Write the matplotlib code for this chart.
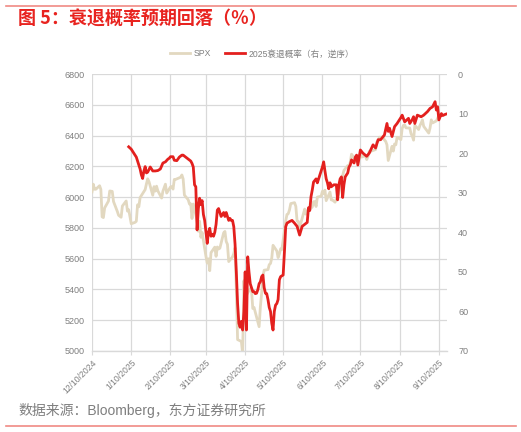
import matplotlib
matplotlib.use("Agg")
import matplotlib.pyplot as plt
import pandas as pd
from matplotlib.lines import Line2D

plt.rcParams['font.family'] = ['Liberation Sans', 'Noto Sans CJK SC', 'DejaVu Sans']

# SPX closes (left axis)
spx_dates = [
    "2024-12-10", "2024-12-11", "2024-12-12", "2024-12-13", "2024-12-16", "2024-12-17", "2024-12-18",
    "2024-12-19", "2024-12-20", "2024-12-23", "2024-12-24", "2024-12-26", "2024-12-27", "2024-12-30",
    "2024-12-31", "2025-01-02", "2025-01-03", "2025-01-06", "2025-01-07", "2025-01-08", "2025-01-10",
    "2025-01-13", "2025-01-14", "2025-01-15", "2025-01-16", "2025-01-17", "2025-01-21", "2025-01-22",
    "2025-01-23", "2025-01-24", "2025-01-27", "2025-01-28", "2025-01-29", "2025-01-30", "2025-01-31",
    "2025-02-03", "2025-02-04", "2025-02-05", "2025-02-06", "2025-02-07", "2025-02-10", "2025-02-11",
    "2025-02-12", "2025-02-13", "2025-02-14", "2025-02-18", "2025-02-19", "2025-02-20", "2025-02-21",
    "2025-02-24", "2025-02-25", "2025-02-26", "2025-02-27", "2025-02-28", "2025-03-03", "2025-03-04",
    "2025-03-05", "2025-03-06", "2025-03-07", "2025-03-10", "2025-03-11", "2025-03-12", "2025-03-13",
    "2025-03-14", "2025-03-17", "2025-03-18", "2025-03-19", "2025-03-20", "2025-03-21", "2025-03-24",
    "2025-03-25", "2025-03-26", "2025-03-27", "2025-03-28", "2025-03-31", "2025-04-01", "2025-04-02",
    "2025-04-03", "2025-04-04", "2025-04-07", "2025-04-08", "2025-04-09", "2025-04-10", "2025-04-11",
    "2025-04-14", "2025-04-15", "2025-04-16", "2025-04-17", "2025-04-21", "2025-04-22", "2025-04-23",
    "2025-04-24", "2025-04-25", "2025-04-28", "2025-04-29", "2025-04-30", "2025-05-01", "2025-05-02",
    "2025-05-05", "2025-05-06", "2025-05-07", "2025-05-08", "2025-05-09", "2025-05-12", "2025-05-13",
    "2025-05-14", "2025-05-15", "2025-05-16", "2025-05-19", "2025-05-20", "2025-05-21", "2025-05-22",
    "2025-05-23", "2025-05-27", "2025-05-28", "2025-05-29", "2025-05-30", "2025-06-02", "2025-06-03",
    "2025-06-04", "2025-06-05", "2025-06-06", "2025-06-09", "2025-06-10", "2025-06-11", "2025-06-12",
    "2025-06-13", "2025-06-16", "2025-06-17", "2025-06-18", "2025-06-20", "2025-06-23", "2025-06-24",
    "2025-06-25", "2025-06-26", "2025-06-27", "2025-06-30", "2025-07-01", "2025-07-02", "2025-07-03",
    "2025-07-07", "2025-07-08", "2025-07-09", "2025-07-10", "2025-07-11", "2025-07-14", "2025-07-15",
    "2025-07-16", "2025-07-17", "2025-07-18", "2025-07-21", "2025-07-22", "2025-07-23", "2025-07-24",
    "2025-07-25", "2025-07-28", "2025-07-29", "2025-07-30", "2025-07-31", "2025-08-01", "2025-08-04",
    "2025-08-05", "2025-08-06", "2025-08-07", "2025-08-08", "2025-08-11", "2025-08-12", "2025-08-13",
    "2025-08-14", "2025-08-15", "2025-08-18", "2025-08-19", "2025-08-20", "2025-08-21", "2025-08-22",
    "2025-08-25", "2025-08-26", "2025-08-27", "2025-08-28", "2025-08-29", "2025-09-02", "2025-09-03",
    "2025-09-04", "2025-09-05", "2025-09-08", "2025-09-09", "2025-09-10",
]
spx_values = [
    6034, 6084, 6051, 6051, 6074, 6050, 5872,
    5867, 5930, 5974, 6040, 6037, 5971, 5907,
    5882, 5869, 5942, 5975, 5909, 5918, 5827,
    5836, 5843, 5950, 5937, 5997, 6049, 6086,
    6119, 6101, 6012, 6068, 6039, 6071, 6041,
    5994, 6038, 6061, 6084, 6026, 6066, 6069,
    6052, 6115, 6115, 6129, 6144, 6118, 6013,
    5983, 5955, 5956, 5861, 5955, 5850, 5778,
    5843, 5739, 5770, 5615, 5572, 5599, 5522,
    5639, 5675, 5615, 5676, 5663, 5668, 5768,
    5777, 5712, 5693, 5581, 5612, 5633, 5671,
    5397, 5074, 5062, 4982, 5457, 5268, 5363,
    5406, 5397, 5276, 5283, 5158, 5288, 5376,
    5485, 5525, 5529, 5561, 5569, 5604, 5687,
    5650, 5607, 5631, 5664, 5660, 5844, 5887,
    5892, 5917, 5958, 5964, 5940, 5845, 5842,
    5802, 5922, 5889, 5912, 5912, 5936, 5970,
    5971, 5939, 6000, 6006, 6038, 6022, 6045,
    5977, 6033, 5982, 5981, 5967, 6025, 6092,
    6092, 6141, 6173, 6205, 6198, 6227, 6279,
    6230, 6226, 6263, 6280, 6260, 6269, 6244,
    6264, 6297, 6297, 6306, 6309, 6359, 6363,
    6389, 6390, 6371, 6362, 6339, 6238, 6330,
    6299, 6345, 6340, 6389, 6374, 6446, 6466,
    6469, 6450, 6449, 6412, 6396, 6370, 6467,
    6439, 6465, 6481, 6502, 6460, 6416, 6448,
    6502, 6482, 6495, 6512, 6532,
]

# 2025 recession probability, % (right axis, inverted)
rec_dates = [
    "2025-01-08", "2025-01-10", "2025-01-12", "2025-01-14", "2025-01-15", "2025-01-16", "2025-01-17",
    "2025-01-18", "2025-01-19", "2025-01-20", "2025-01-21", "2025-01-22", "2025-01-23", "2025-01-25",
    "2025-01-27", "2025-01-29", "2025-01-31", "2025-02-02", "2025-02-04", "2025-02-06", "2025-02-08",
    "2025-02-09", "2025-02-10", "2025-02-12", "2025-02-13", "2025-02-15", "2025-02-17", "2025-02-19",
    "2025-02-20", "2025-02-22", "2025-02-24", "2025-02-26", "2025-02-27", "2025-02-28", "2025-03-01",
    "2025-03-02", "2025-03-03", "2025-03-04", "2025-03-05", "2025-03-06", "2025-03-07", "2025-03-08",
    "2025-03-09", "2025-03-10", "2025-03-11", "2025-03-12", "2025-03-13", "2025-03-14", "2025-03-15",
    "2025-03-16", "2025-03-17", "2025-03-18", "2025-03-19", "2025-03-20", "2025-03-21", "2025-03-22",
    "2025-03-23", "2025-03-24", "2025-03-25", "2025-03-26", "2025-03-27", "2025-03-28", "2025-03-29",
    "2025-03-30", "2025-03-31", "2025-04-01", "2025-04-02", "2025-04-03", "2025-04-04", "2025-04-05",
    "2025-04-06", "2025-04-07", "2025-04-08", "2025-04-09", "2025-04-10", "2025-04-11", "2025-04-12",
    "2025-04-13", "2025-04-14", "2025-04-15", "2025-04-16", "2025-04-17", "2025-04-18", "2025-04-19",
    "2025-04-20", "2025-04-21", "2025-04-22", "2025-04-23", "2025-04-24", "2025-04-25", "2025-04-26",
    "2025-04-27", "2025-04-28", "2025-04-29", "2025-04-30", "2025-05-01", "2025-05-02", "2025-05-03",
    "2025-05-04", "2025-05-05", "2025-05-06", "2025-05-07", "2025-05-08", "2025-05-09", "2025-05-10",
    "2025-05-11", "2025-05-12", "2025-05-13", "2025-05-15", "2025-05-17", "2025-05-19", "2025-05-21",
    "2025-05-23", "2025-05-25", "2025-05-27", "2025-05-29", "2025-05-30", "2025-05-31", "2025-06-01",
    "2025-06-02", "2025-06-03", "2025-06-05", "2025-06-06", "2025-06-08", "2025-06-10", "2025-06-11",
    "2025-06-12", "2025-06-13", "2025-06-14", "2025-06-15", "2025-06-16", "2025-06-17", "2025-06-19",
    "2025-06-21", "2025-06-22", "2025-06-23", "2025-06-24", "2025-06-25", "2025-06-26", "2025-06-27",
    "2025-06-28", "2025-06-30", "2025-07-01", "2025-07-02", "2025-07-03", "2025-07-05", "2025-07-06",
    "2025-07-07", "2025-07-08", "2025-07-10", "2025-07-12", "2025-07-15", "2025-07-17", "2025-07-20",
    "2025-07-22", "2025-07-24", "2025-07-26", "2025-07-29", "2025-07-31", "2025-08-01", "2025-08-02",
    "2025-08-04", "2025-08-05", "2025-08-06", "2025-08-08", "2025-08-11", "2025-08-12", "2025-08-14",
    "2025-08-17", "2025-08-18", "2025-08-20", "2025-08-21", "2025-08-22", "2025-08-24", "2025-08-27",
    "2025-08-29", "2025-09-01", "2025-09-03", "2025-09-05", "2025-09-07", "2025-09-08", "2025-09-09",
    "2025-09-10", "2025-09-11", "2025-09-12", "2025-09-13", "2025-09-15", "2025-09-16",
]
rec_values = [
    18.4, 19.0, 20.0, 21.0, 22.0, 23.0, 24.0,
    25.5, 26.4, 24.5, 23.4, 25.0, 24.8, 23.5,
    24.5, 24.5, 24.4, 24.0, 22.5, 22.2, 21.5,
    21.3, 20.9, 20.9, 21.8, 21.9, 21.0, 20.5,
    20.5, 21.0, 21.5, 22.0, 22.6, 23.5, 28.0,
    28.5, 39.4, 34.0, 31.4, 33.0, 32.0, 35.5,
    37.0, 40.0, 42.8, 40.0, 39.0, 41.0, 40.5,
    41.0, 40.0, 38.0, 34.4, 34.0, 35.0, 36.0,
    35.5, 35.0, 36.0, 35.0, 36.0, 37.0, 36.5,
    37.0, 37.0, 38.6, 43.0, 50.0, 58.0, 63.0,
    64.0, 62.5, 64.7, 60.0, 50.0, 64.7, 46.2,
    50.0, 53.0, 54.0, 55.0, 55.0, 55.5, 55.4,
    54.5, 53.0, 52.5, 51.2, 50.8, 54.0, 55.4,
    55.5, 57.0, 59.0, 60.0, 63.0, 64.7, 60.0,
    58.4, 58.0, 57.0, 52.0, 51.2, 51.0, 50.8,
    45.0, 38.6, 37.7, 37.3, 37.0, 37.7, 38.5,
    40.7, 38.5, 38.0, 37.5, 33.8, 34.5, 31.0,
    29.3, 27.3, 26.5, 27.5, 25.5, 23.5, 22.2,
    24.5, 26.5, 27.5, 29.0, 27.5, 28.5, 28.0,
    28.0, 31.8, 28.0, 26.5, 26.0, 31.2, 28.0,
    26.0, 25.0, 23.5, 23.0, 21.7, 22.5, 21.0,
    20.5, 23.0, 19.2, 20.0, 20.8, 20.0, 17.9,
    18.7, 16.6, 16.6, 15.4, 12.5, 14.5, 13.7,
    15.8, 14.5, 13.3, 12.5, 11.0, 10.4, 12.1,
    11.2, 12.5, 11.5, 10.8, 12.5, 10.4, 10.8,
    10.4, 9.5, 8.7, 8.3, 7.0, 9.1, 8.3,
    11.6, 10.8, 10.0, 10.5, 10.2, 10.1,
]

tick_dates = ["2024-12-10", "2025-01-10", "2025-02-10", "2025-03-10", "2025-04-10",
              "2025-05-10", "2025-06-10", "2025-07-10", "2025-08-10", "2025-09-10"]
tick_labels = ["12/10/2024", "1/10/2025", "2/10/2025", "3/10/2025", "4/10/2025",
               "5/10/2025", "6/10/2025", "7/10/2025", "8/10/2025", "9/10/2025"]

spx_color = "#e2d8c0"
rec_color = "#e3201e"
grid_color = "#d9d9d9"
txt_color = "#7f7f7f"

fig = plt.figure(figsize=(5.21, 4.32), dpi=100)
ax = fig.add_axes([92/521, 1 - 351/432, (447-92)/521, (351-74)/432])
ax2 = ax.twinx()

ax.plot(pd.to_datetime(spx_dates), spx_values, color=spx_color, lw=2.0, solid_joinstyle='round')
ax2.plot(pd.to_datetime(rec_dates), rec_values, color=rec_color, lw=2.0, solid_joinstyle='round')

ax.set_ylim(5000, 6800)
ax.set_yticks(range(5000, 6801, 200))
ax2.set_ylim(70, 0)
ax2.set_yticks(range(0, 71, 10))

ax.set_xlim(pd.Timestamp("2024-12-10"), pd.Timestamp("2025-09-16 10:00"))
ax.set_xticks(pd.to_datetime(tick_dates))
ax.set_xticklabels(tick_labels, rotation=45, ha='right', rotation_mode='anchor')

ax.grid(True, color=grid_color, lw=0.9)
ax.set_axisbelow(True)
for a in (ax, ax2):
    for s in a.spines.values():
        s.set_visible(False)
ax.spines['bottom'].set_visible(True)
ax.spines['bottom'].set_color(grid_color)
ax.spines['bottom'].set_linewidth(1.0)

ax.tick_params(axis='y', length=0, pad=5, labelsize=6.5, labelcolor=txt_color)
ax2.tick_params(axis='y', length=0, pad=8, labelsize=6.5, labelcolor=txt_color)
ax.tick_params(axis='x', length=3, color=grid_color, pad=2, labelsize=6.2, labelcolor=txt_color)

handles = [Line2D([], [], color=spx_color, lw=2.0), Line2D([], [], color=rec_color, lw=2.0)]
fig.legend(handles, ["SPX", "2025衰退概率（右，逆序）"], loc='center', ncol=2,
           bbox_to_anchor=(262/521, 1 - 54/432), frameon=False, fontsize=6.2,
           labelcolor=txt_color, handlelength=2.4, columnspacing=1.6, handletextpad=0.4)

fig.text(18/521, 1 - 19/432, "图 5：衰退概率预期回落（％）", color="#e8231f", fontsize=13,
         fontweight='bold', va='center', ha='left', family=['Noto Sans CJK SC', 'DejaVu Sans'])
fig.text(18/521, 1 - 410/432, "数据来源：Bloomberg，东方证券研究所", color=txt_color, fontsize=10,
         va='center', ha='left', family=['Liberation Sans', 'Noto Sans CJK SC', 'DejaVu Sans'])

fig.add_artist(Line2D([6/521, 516/521], [1 - 5.5/432, 1 - 5.5/432], color="#f08a84", lw=1.2))
fig.add_artist(Line2D([6/521, 516/521], [1 - 426/432, 1 - 426/432], color="#f08a84", lw=1.2))

fig.savefig("out.png", dpi=100)
